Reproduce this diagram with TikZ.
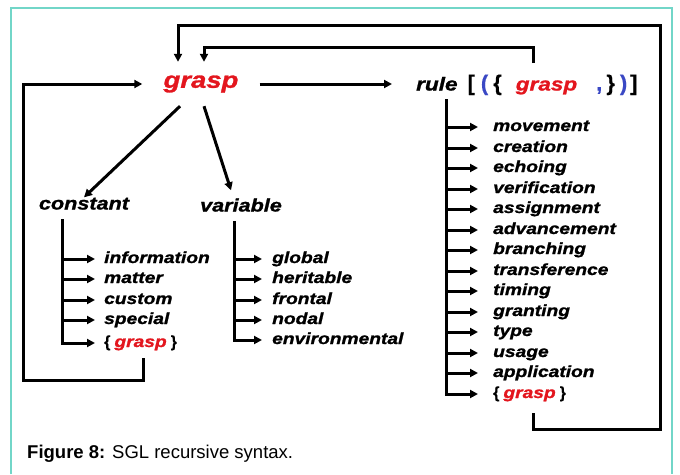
\documentclass[tikz,border=0pt]{standalone}
\usepackage{fontspec}
\setmainfont{Liberation Sans}
\newfontfamily\heavy{Liberation Sans}[FakeStretch=1.2,FakeBold=1.2]
\newfontfamily\brk{Liberation Sans}[FakeBold=0.4]
\usetikzlibrary{arrows.meta}
\definecolor{framecol}{HTML}{72D6C8}
\definecolor{gred}{HTML}{E3161E}
\definecolor{gblue}{HTML}{3A48C4}
\newcommand{\kw}[1]{{\heavy\bfseries\itshape #1}}
\newcommand{\gr}[1]{{\heavy\bfseries\itshape\color{gred}#1}}
\newcommand{\bk}[1]{{\brk\bfseries\upshape #1}}
\newcommand{\bigbk}[1]{{\brk\fontsize{22}{22}\selectfont\bfseries\upshape #1}}
\begin{document}
\begin{tikzpicture}[x=1pt,y=-1pt,
  wire/.style={line width=3pt,line cap=rect},
  arr/.style={wire,line cap=butt,-{Triangle[length=8pt,width=8pt]}},
  item/.style={anchor=west,inner sep=0pt,text height=11pt,text depth=3pt,
    font=\heavy\fontsize{16}{16}\selectfont\bfseries\itshape},
  head/.style={inner sep=0pt,text height=12pt,text depth=3pt,
    font=\heavy\fontsize{18}{18}\selectfont\bfseries\itshape}]
\useasboundingbox (0,0) rectangle (680,474);
% page frame
\draw[framecol,line width=2pt] (11,474) -- (11,8) -- (672,8) -- (672,474);

% root symbol
\node (grasp) [minimum width=117pt,minimum height=44pt,inner sep=0pt,
  font=\heavy\fontsize{22.9}{23}\selectfont\bfseries\itshape,text=gred]
  at (201,84) {grasp};

% rule header
\node (rule) [anchor=west,inner sep=0pt,text height=13pt,text depth=4pt,
  font=\fontsize{18.8}{19}\selectfont] at (416,86)
  {\kw{rule}\hspace{10pt}\bigbk{[}\hspace{6pt}\bigbk{\textcolor{gblue}{(}}\hspace{5pt}\bigbk{\{}\hspace{14pt}\gr{grasp}\hspace{19pt}\bigbk{\textcolor{gblue}{,}}\hspace{4pt}\bigbk{\}}\hspace{5pt}\bigbk{\textcolor{gblue}{)}}\hspace{3pt}\bigbk{]}};

% category headers
\node (constant) [head] at (84,205) {constant};
\node (variable) [head] at (241,207) {variable};

% constant items
\foreach \n/\t/\y in {c1/information/259, c2/matter/279, c3/custom/300, c4/special/320}
  \node (\n) [item] at (104,\y) {\t};
\node (c5) [item] at (104,343) {\bk{\{}\hspace{4pt}\textcolor{gred}{grasp}\hspace{4pt}\bk{\}}};

% variable items
\foreach \n/\t/\y in {v1/global/259, v2/heritable/279, v3/frontal/300, v4/nodal/320, v5/environmental/340}
  \node (\n) [item] at (272,\y) {\t};

% rule items
\foreach \n/\t/\y in {r1/movement/127, r2/creation/148, r3/echoing/168, r4/verification/189,
    r5/assignment/209, r6/advancement/230, r7/branching/250, r8/transference/271,
    r9/timing/291, r10/granting/312, r11/type/332, r12/usage/353, r13/application/373}
  \node (\n) [item] at (493,\y) {\t};
\node (r14) [item] at (493,394) {\bk{\{}\hspace{4pt}\textcolor{gred}{grasp}\hspace{4pt}\bk{\}}};

% derivations from the root
\coordinate (rin) at ([xshift=-24pt]rule.west);
\draw[arr] (grasp.east) -- (grasp.east -| rin);
\draw[arr] (grasp.south -| 180,0) -- (constant.north);
\draw[arr] (grasp.south -| 204,0) -- ([xshift=-10pt,yshift=9pt]variable.north);

% list trunks and branches
\coordinate (ct) at (62,220);
\coordinate (vt) at (234,222);
\coordinate (rt) at (446,100);
\draw[wire] (ct) -- (ct |- c5.west);
\foreach \n in {c1,c2,c3,c4,c5}
  \draw[arr] (ct |- \n.west) -- ([xshift=-9pt]\n.west);
\draw[wire] (vt) -- (vt |- v5.west);
\foreach \n in {v1,v2,v3,v4,v5}
  \draw[arr] (vt |- \n.west) -- ([xshift=-10pt]\n.west);
\draw[wire] (rt) -- (rt |- r14.west);
\foreach \n in {r1,r2,r3,r4,r5,r6,r7,r8,r9,r10,r11,r12,r13,r14}
  \draw[arr] (rt |- \n.west) -- ([xshift=-15pt]\n.west);

% recursion back to the root
\coordinate (cgr) at (143,358);
\coordinate (rgr) at (533,413);
\coordinate (rtop) at (533,63);
\draw[arr] (cgr) -- (143,380) -- (23,380) |- (grasp.west);
\draw[arr] (rgr) -- (533,429) -- (660,429) -- (660,25) -| (grasp.north -| 178,0);
\draw[arr] (rtop) -- (533,47) -| (grasp.north -| 204,0);

% caption
\node (cap) [anchor=base west,inner sep=0pt,font=\fontsize{18.5}{19}\selectfont]
  at (27,458) {\textbf{Figure 8:} SGL recursive syntax.};
\end{tikzpicture}
\end{document}
